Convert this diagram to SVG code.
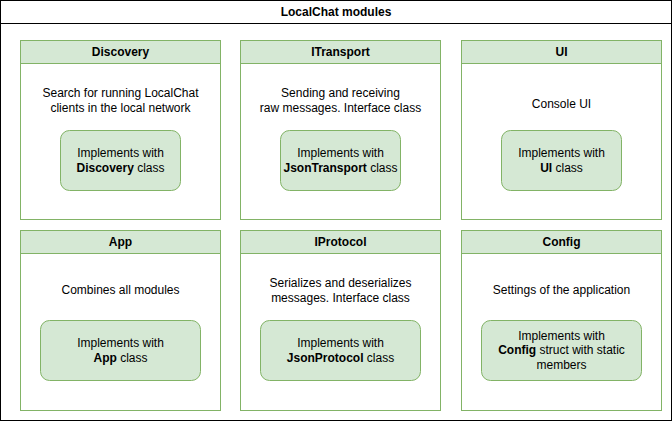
<svg xmlns="http://www.w3.org/2000/svg" width="672" height="421" viewBox="0 0 672 421">
<style>
text{font-family:"Liberation Sans",Arial,sans-serif;font-size:12px;fill:#000;text-anchor:middle}
.b{font-weight:bold}
.mod{fill:#fff;stroke:#82b366;stroke-width:1}
.hdr{fill:#d5e8d4;stroke:#82b366;stroke-width:1}
.impl{fill:#d5e8d4;stroke:#82b366;stroke-width:1}
</style>
<g id="container">
<rect x="0.5" y="0.5" width="671" height="420" fill="#fff" stroke="#000"/>
<line x1="0.5" y1="23.5" x2="671.5" y2="23.5" stroke="#000"/>
<text x="336" y="16" class="b">LocalChat modules</text>
</g>
<g id="discovery">
<rect class="mod" x="20.5" y="40.5" width="200" height="179"/>
<rect class="hdr" x="20.5" y="40.5" width="200" height="23"/>
<text x="120.5" y="56" class="b">Discovery</text>
<text x="120.5" y="97">Search for running LocalChat</text>
<text x="120.5" y="112">clients in the local network</text>
<rect class="impl" x="60.5" y="130.5" width="120" height="60" rx="9"/>
<text x="120.5" y="157">Implements with</text>
<text x="120.5" y="172"><tspan class="b">Discovery</tspan> class</text>
</g>
<g id="itransport">
<rect class="mod" x="240.5" y="40.5" width="200" height="179"/>
<rect class="hdr" x="240.5" y="40.5" width="200" height="23"/>
<text x="340.5" y="56" class="b">ITransport</text>
<text x="340.5" y="97">Sending and receiving</text>
<text x="340.5" y="112">raw messages. Interface class</text>
<rect class="impl" x="280.5" y="130.5" width="120" height="60" rx="9"/>
<text x="340.5" y="157">Implements with</text>
<text x="340.5" y="172"><tspan class="b">JsonTransport</tspan> class</text>
</g>
<g id="ui">
<rect class="mod" x="461.5" y="40.5" width="200" height="179"/>
<rect class="hdr" x="461.5" y="40.5" width="200" height="23"/>
<text x="561.5" y="56" class="b">UI</text>
<text x="561.5" y="108">Console UI</text>
<rect class="impl" x="501.5" y="130.5" width="120" height="60" rx="9"/>
<text x="561.5" y="157">Implements with</text>
<text x="561.5" y="172"><tspan class="b">UI</tspan> class</text>
</g>
<g id="app">
<rect class="mod" x="20.5" y="230.5" width="200" height="180"/>
<rect class="hdr" x="20.5" y="230.5" width="200" height="23"/>
<text x="120.5" y="246" class="b">App</text>
<text x="120.5" y="294">Combines all modules</text>
<rect class="impl" x="40.5" y="320.5" width="160" height="60" rx="9"/>
<text x="120.5" y="347">Implements with</text>
<text x="120.5" y="362"><tspan class="b">App</tspan> class</text>
</g>
<g id="iprotocol">
<rect class="mod" x="240.5" y="230.5" width="200" height="180"/>
<rect class="hdr" x="240.5" y="230.5" width="200" height="23"/>
<text x="340.5" y="246" class="b">IProtocol</text>
<text x="340.5" y="287">Serializes and deserializes</text>
<text x="340.5" y="302">messages. Interface class</text>
<rect class="impl" x="260.5" y="320.5" width="160" height="60" rx="9"/>
<text x="340.5" y="347">Implements with</text>
<text x="340.5" y="362"><tspan class="b">JsonProtocol</tspan> class</text>
</g>
<g id="config">
<rect class="mod" x="461.5" y="230.5" width="200" height="180"/>
<rect class="hdr" x="461.5" y="230.5" width="200" height="23"/>
<text x="561.5" y="246" class="b">Config</text>
<text x="561.5" y="294">Settings of the application</text>
<rect class="impl" x="481.5" y="320.5" width="160" height="60" rx="9"/>
<text x="561.5" y="340">Implements with</text>
<text x="561.5" y="354"><tspan class="b">Config</tspan> struct with static</text>
<text x="561.5" y="369">members</text>
</g>
<g id="connectors"/>
</svg>
